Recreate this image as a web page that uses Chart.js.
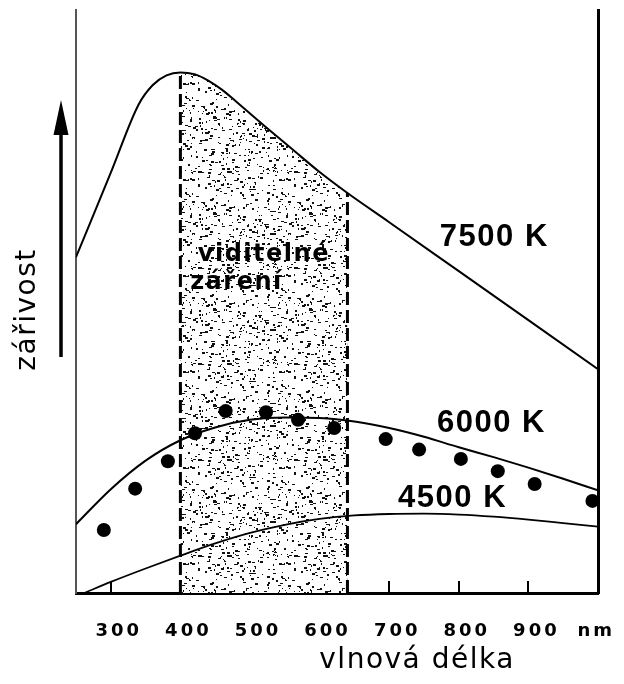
<!DOCTYPE html>
<html lang="cs">
<head>
    <meta charset="UTF-8">
    <title>Zářivost – vlnová délka</title>
    <script src="https://cdn.jsdelivr.net/npm/chart.js"></script>
    <style>
        html, body { margin: 0; padding: 0; background: #fff; }
        canvas { display: block; }
    </style>
</head>
<body>
    <canvas id="spectrumChart" width="624" height="684"></canvas>

    <script>
        // curves (wavelength in nm, radiance in arbitrary units 0-100)
        const wl7500 = [250, 300, 340, 360, 380, 400, 420, 440, 460, 480, 520, 560, 600, 640, 700, 800, 900, 1000];
        const val7500 = [57.6, 72.1, 83.8, 87.1, 88.8, 89.3, 89.0, 87.9, 86.3, 84.3, 80.2, 76.2, 72.2, 68.6, 63.6, 55.2, 46.8, 38.4];

        const wl6000 = [250, 300, 350, 400, 450, 500, 550, 600, 650, 700, 750, 800, 850, 900, 950, 1000];
        const val6000 = [11.8, 17.8, 22.7, 26.2, 28.4, 29.7, 30.1, 30.0, 29.4, 28.3, 26.8, 25.0, 23.3, 21.5, 19.6, 17.6];

        const wl4500 = [262, 300, 350, 400, 450, 500, 550, 600, 650, 700, 750, 800, 850, 900, 950, 1000];
        const val4500 = [0, 1.9, 4.2, 6.4, 8.5, 10.3, 11.7, 12.7, 13.3, 13.55, 13.6, 13.45, 13.1, 12.6, 12.0, 11.4];

        // measured points (dots)
        const dotWl = [290, 335, 382, 421, 465, 523, 569, 621, 695, 743, 803, 856, 909, 992];
        const dotVal = [10.8, 17.9, 22.6, 27.4, 31.2, 31.0, 29.7, 28.3, 26.4, 24.6, 23.0, 20.9, 18.7, 15.8];

        // visible band and axis ticks
        const visibleFrom = 400;
        const visibleTo = 640;
        const tickValues = [300, 400, 500, 600, 700, 800, 900];
        const unitLabel = 'nm';

        const kFont = 'bold 31px "Liberation Sans"';
        const curveLabels = [
            { text: '7500 K', wl: 851, val: 61.0, align: 'center', font: kFont, spacing: '1.5px' },
            { text: '6000 K', wl: 847, val: 29.0, align: 'center', font: kFont, spacing: '1.5px' },
            { text: '4500 K', wl: 791, val: 16.3, align: 'center', font: kFont, spacing: '1.5px' },
            { text: 'viditelné', wl: 425, val: 58.1, align: 'left', font: 'bold 24px "DejaVu Sans"', spacing: '1.5px' },
            { text: 'záření', wl: 414, val: 53.2, align: 'left', font: 'bold 24px "DejaVu Sans"', spacing: '1.5px' }
        ];

        const toPoints = (xs, ys) => xs.map((x, i) => ({ x: x, y: ys[i] }));
        const valueAt = (xs, ys, x) => ys[xs.indexOf(x)];

        const canvas = document.getElementById('spectrumChart');
        const ctx = canvas.getContext('2d');

        // speckled texture for the visible band
        function makeStipple() {
            const size = 96;
            const tile = document.createElement('canvas');
            tile.width = size;
            tile.height = size;
            const g = tile.getContext('2d');
            g.fillStyle = '#fff';
            g.fillRect(0, 0, size, size);
            g.fillStyle = '#111';
            let seed = 11;
            const next = () => (seed = (seed * 16807) % 2147483647) / 2147483647;
            for (let i = 0; i < 380; i++) {
                const px = Math.floor(next() * size);
                const py = Math.floor(next() * size);
                const w = 1 + Math.floor(next() * 3);
                const h = 1 + Math.floor(next() * 2);
                g.fillRect(px, py, w, h);
            }
            return ctx.createPattern(tile, 'repeat');
        }

        const bandPoints = toPoints(wl7500, val7500).filter(p => p.x >= visibleFrom && p.x <= visibleTo);

        const annotations = {
            id: 'annotations',
            beforeDraw(chart) {
                chart.ctx.letterSpacing = '3px'; // wide tick labels
            },
            afterDraw(chart) {
                const { ctx, chartArea, scales: { x, y } } = chart;
                ctx.save();
                ctx.fillStyle = '#000';
                ctx.textBaseline = 'middle';

                curveLabels.forEach(l => {
                    ctx.font = l.font;
                    ctx.letterSpacing = l.spacing;
                    ctx.textAlign = l.align;
                    ctx.fillText(l.text, x.getPixelForValue(l.wl), y.getPixelForValue(l.val));
                });

                // x axis title
                ctx.font = '28px "DejaVu Sans"';
                ctx.letterSpacing = '1.5px';
                ctx.textAlign = 'center';
                ctx.fillText('vlnová délka', x.getPixelForValue(740), x.bottom - 23);

                // y axis title, rotated
                ctx.save();
                ctx.translate(28, (chartArea.top + chartArea.bottom) / 2 + 8);
                ctx.rotate(-Math.PI / 2);
                ctx.fillText('zářivost', 0, 0);
                ctx.restore();

                // arrow next to the y title
                const ax = chartArea.left - 15;
                const tip = chartArea.top + 90;
                ctx.strokeStyle = '#000';
                ctx.lineWidth = 3.5;
                ctx.beginPath();
                ctx.moveTo(ax, chartArea.top + 347);
                ctx.lineTo(ax, tip + 30);
                ctx.stroke();
                ctx.beginPath();
                ctx.moveTo(ax, tip);
                ctx.lineTo(ax - 7.5, tip + 35);
                ctx.lineTo(ax + 7.5, tip + 35);
                ctx.closePath();
                ctx.fill();

                ctx.restore();
            }
        };

        const curveStyle = {
            borderColor: '#000',
            pointRadius: 0,
            fill: false,
            cubicInterpolationMode: 'monotone'
        };

        new Chart(canvas, {
            type: 'line',
            data: {
                datasets: [
                    {
                        label: 'viditelné záření',
                        data: bandPoints,
                        borderWidth: 0,
                        pointRadius: 0,
                        backgroundColor: makeStipple(),
                        fill: 'origin',
                        cubicInterpolationMode: 'monotone',
                        order: 5
                    },
                    {
                        label: 'hranice 1',
                        data: [{ x: visibleFrom, y: 0 }, { x: visibleFrom, y: valueAt(wl7500, val7500, visibleFrom) }],
                        borderColor: '#000',
                        borderWidth: 3,
                        borderDash: [13, 5],
                        pointRadius: 0,
                        order: 2
                    },
                    {
                        label: 'hranice 2',
                        data: [{ x: visibleTo, y: 0 }, { x: visibleTo, y: valueAt(wl7500, val7500, visibleTo) }],
                        borderColor: '#000',
                        borderWidth: 3,
                        borderDash: [13, 5],
                        pointRadius: 0,
                        order: 2
                    },
                    { ...curveStyle, label: '7500 K', data: toPoints(wl7500, val7500), borderWidth: 2, order: 0 },
                    { ...curveStyle, label: '6000 K', data: toPoints(wl6000, val6000), borderWidth: 2, order: 0 },
                    { ...curveStyle, label: '4500 K', data: toPoints(wl4500, val4500), borderWidth: 1.8, order: 0 },
                    {
                        label: 'měření',
                        data: toPoints(dotWl, dotVal),
                        showLine: false,
                        pointRadius: 7,
                        pointBackgroundColor: '#000',
                        pointBorderWidth: 0,
                        order: 0
                    }
                ]
            },
            options: {
                responsive: false,
                animation: false,
                devicePixelRatio: 1,
                layout: { padding: { top: 10, left: 0, right: 0, bottom: 0 } },
                plugins: {
                    legend: { display: false },
                    tooltip: { enabled: false }
                },
                scales: {
                    x: {
                        type: 'linear',
                        min: 250,
                        max: 1000,
                        afterBuildTicks: axis => {
                            axis.ticks = tickValues.concat([986]).map(v => ({ value: v }));
                        },
                        afterFit: scale => {
                            scale.height = 91;
                            scale.paddingLeft = 0;
                            scale.paddingRight = 0;
                        },
                        ticks: {
                            autoSkip: false,
                            maxRotation: 0,
                            color: '#000',
                            padding: 40,
                            labelOffset: 8,
                            font: { family: 'DejaVu Sans', size: 18, weight: 'bold' },
                            callback: v => (v > 950 ? unitLabel : v)
                        },
                        grid: {
                            drawOnChartArea: false,
                            tickLength: -12,
                            lineWidth: 2,
                            color: c => (c.tick && c.tick.value > 950 ? 'rgba(0,0,0,0)' : '#000')
                        },
                        border: { color: '#000', width: 3 }
                    },
                    y: {
                        min: 0,
                        max: 100,
                        position: 'left',
                        afterFit: scale => { scale.width = 76; },
                        ticks: { display: false },
                        grid: { display: false },
                        border: { color: '#555', width: 2 }
                    },
                    yRight: {
                        min: 0,
                        max: 100,
                        position: 'right',
                        afterFit: scale => { scale.width = 26; },
                        ticks: { display: false },
                        grid: { display: false },
                        border: { color: '#000', width: 3 }
                    }
                }
            },
            plugins: [annotations]
        });
    </script>
</body>
</html>
